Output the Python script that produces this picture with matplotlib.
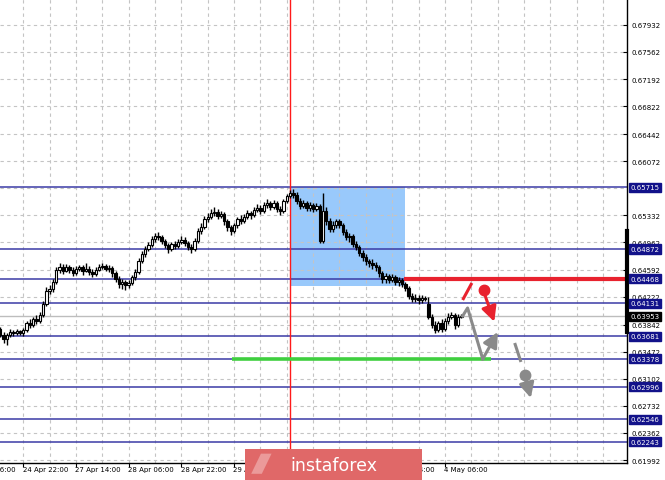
import matplotlib
matplotlib.use("Agg")
import matplotlib.pyplot as plt
from matplotlib.patches import Rectangle, Polygon
from matplotlib.transforms import blended_transform_factory

# ---------------- data (hourly candles) ----------------
opens = [.63781,.63699,.63644,.63699,.63740,.63726,.63754,.63726,.63767,.63863,
 .63835,.63917,.63890,.63972,.64122,.64300,.64327,.64422,.64586,.64627,
 .64573,.64627,.64586,.64545,.64600,.64627,.64573,.64600,.64559,.64532,
 .64586,.64627,.64641,.64600,.64614,.64545,.64463,.64395,.64422,.64381,
 .64409,.64491,.64559,.64709,.64805,.64873,.64927,.65009,.65050,.65037,
 .64982,.64927,.64873,.64941,.64914,.64968,.64996,.64955,.64900,.64873,
 .64982,.65119,.65173,.65282,.65310,.65364,.65378,.65323,.65351,.65255,
 .65173,.65119,.65200,.65282,.65255,.65310,.65364,.65337,.65405,.65433,
 .65392,.65473,.65501,.65446,.65501,.65419,.65392,.65528,.65596,.65637,
 .65610,.65528,.65460,.65501,.65433,.65473,.65419,.65460,.64982,.65392,
 .65255,.65146,.65200,.65255,.65200,.65105,.65037,.65050,.64941,.64900,
 .64818,.64764,.64709,.64682,.64654,.64627,.64545,.64463,.64504,.64450,
 .64491,.64422,.64450,.64395,.64341,.64231,.64190,.64204,.64177,.64204,
 .64122,.63945,.63835,.63767,.63863,.63781,.63890,.63945,.63972,.63835,
 .63945]
highs = [.63808,.63740,.63726,.63781,.63767,.63781,.63767,.63795,.63890,.63917,
 .63945,.63972,.64013,.64163,.64354,.64381,.64463,.64627,.64682,.64668,
 .64668,.64654,.64627,.64641,.64654,.64654,.64682,.64641,.64600,.64627,
 .64668,.64682,.64668,.64654,.64641,.64573,.64504,.64463,.64450,.64450,
 .64518,.64600,.64750,.64846,.64914,.64968,.65050,.65091,.65105,.65064,
 .65009,.64955,.64968,.64982,.65009,.65050,.65037,.64982,.64941,.65023,
 .65160,.65228,.65323,.65364,.65419,.65446,.65419,.65392,.65378,.65282,
 .65200,.65228,.65310,.65337,.65351,.65405,.65392,.65446,.65487,.65473,
 .65514,.65555,.65528,.65542,.65528,.65460,.65555,.65624,.65678,.65692,
 .65651,.65569,.65542,.65528,.65514,.65501,.65501,.65487,.65637,.65446,
 .65296,.65255,.65282,.65282,.65228,.65146,.65091,.65078,.64982,.64927,
 .64859,.64805,.64736,.64736,.64695,.64654,.64573,.64545,.64532,.64532,
 .64518,.64491,.64477,.64422,.64368,.64272,.64259,.64245,.64245,.64231,
 .64218,.63986,.63890,.63890,.63917,.63931,.63999,.64013,.63999,.63986,
 .63986]
lows = [.63672,.63590,.63562,.63672,.63685,.63699,.63699,.63685,.63740,.63795,
 .63808,.63849,.63863,.63945,.64095,.64259,.64286,.64395,.64545,.64532,
 .64559,.64545,.64504,.64518,.64573,.64518,.64559,.64518,.64491,.64504,
 .64573,.64600,.64573,.64559,.64491,.64422,.64341,.64327,.64313,.64341,
 .64381,.64450,.64532,.64682,.64764,.64846,.64900,.64968,.64996,.64941,
 .64887,.64818,.64846,.64873,.64887,.64941,.64914,.64859,.64818,.64846,
 .64955,.65078,.65146,.65241,.65282,.65323,.65282,.65296,.65200,.65119,
 .65064,.65091,.65160,.65214,.65228,.65282,.65282,.65310,.65378,.65351,
 .65364,.65433,.65405,.65419,.65378,.65337,.65364,.65501,.65569,.65569,
 .65487,.65419,.65433,.65392,.65392,.65378,.65392,.64955,.64955,.65200,
 .65105,.65105,.65160,.65160,.65064,.64996,.64968,.64900,.64859,.64777,
 .64709,.64654,.64627,.64600,.64573,.64491,.64409,.64409,.64409,.64422,
 .64381,.64368,.64354,.64300,.64190,.64149,.64149,.64122,.64136,.64163,
 .63917,.63795,.63726,.63740,.63740,.63754,.63849,.63917,.63781,.63808,
 .63931]
closes = [.63699,.63644,.63699,.63740,.63726,.63754,.63726,.63767,.63863,.63835,
 .63917,.63890,.63972,.64122,.64300,.64327,.64422,.64586,.64627,.64573,
 .64627,.64586,.64545,.64600,.64627,.64573,.64600,.64559,.64532,.64586,
 .64627,.64641,.64600,.64614,.64545,.64463,.64395,.64422,.64381,.64409,
 .64491,.64559,.64709,.64805,.64873,.64927,.65009,.65050,.65037,.64982,
 .64927,.64873,.64941,.64914,.64968,.64996,.64955,.64900,.64873,.64982,
 .65119,.65173,.65282,.65310,.65364,.65378,.65323,.65351,.65255,.65173,
 .65119,.65200,.65282,.65255,.65310,.65364,.65337,.65405,.65433,.65392,
 .65473,.65501,.65446,.65501,.65419,.65392,.65528,.65596,.65637,.65610,
 .65528,.65460,.65501,.65433,.65473,.65419,.65460,.64982,.65392,.65255,
 .65146,.65200,.65255,.65200,.65105,.65037,.65050,.64941,.64900,.64818,
 .64764,.64709,.64682,.64654,.64627,.64545,.64463,.64504,.64450,.64491,
 .64422,.64450,.64395,.64341,.64231,.64190,.64204,.64177,.64204,.64190,
 .63945,.63835,.63767,.63863,.63781,.63890,.63945,.63972,.63835,.63945,
 .63953]

current_price = 0.63953
level_prices = [0.65715, 0.64872, 0.64468, 0.64131, 0.63681, 0.63378, 0.62996, 0.62546, 0.62243]
price_ticks = [0.67932, 0.67562, 0.67192, 0.66822, 0.66442, 0.66072, 0.65332, 0.64962,
               0.64592, 0.64222, 0.63842, 0.63472, 0.63102, 0.62732, 0.62362, 0.61992]
grid_prices = price_ticks + [0.65702]
time_tick_bars = [-9, 7, 23, 39, 55, 71, 87, 103, 119, 135]
time_tick_labels = ["24 Apr 06:00", "24 Apr 22:00", "27 Apr 14:00", "28 Apr 06:00",
                    "28 Apr 22:00", "29 Apr 14:00", "30 Apr 06:00", "30 Apr 22:00",
                    "1 May 14:00", "4 May 06:00"]

# zones / forecast markup (bar index, price)
vline_bar = 88.1
zone_x = (88.1, 122.8)
zone_y = (0.64368, 0.65715)
resist_level = 0.64468
resist_start = 122.5
support_level = 0.63378
support_span = (70.5, 148.9)

# ---------------- figure ----------------
W, H = 665, 481
fig = plt.figure(figsize=(W / 100, H / 100), dpi=100)
fig.patch.set_facecolor("white")
ax = fig.add_axes([0, 17 / H, 627 / W, 464 / H])
ax.set_xlim(-0.07, 190.3)
ax.set_ylim(0.61952, 0.68285)
ax.set_facecolor("white")

for s in ["left", "top"]:
    ax.spines[s].set_visible(False)
for s in ["right", "bottom"]:
    ax.spines[s].set_color("black")
    ax.spines[s].set_linewidth(1.0)

# grid
for gp in grid_prices:
    ax.axhline(gp, color="#c4c4c4", lw=0.8, ls=(0, (3, 3)), zorder=1)
for gb in range(-1, 191, 8):
    ax.axvline(gb, color="#c4c4c4", lw=0.8, ls=(0, (3, 3)), zorder=1)

# blue zone
ax.add_patch(Rectangle((zone_x[0], zone_y[0]), zone_x[1] - zone_x[0], zone_y[1] - zone_y[0],
                       facecolor="#99c9fb", edgecolor="none", zorder=0.5))

# horizontal levels
for lp in level_prices:
    ax.axhline(lp, color="#3b3ba6", lw=1.1, zorder=2)
# bid line
ax.axhline(current_price, color="#bdbdbd", lw=1.0, zorder=1.5)

# red vertical line
ax.axvline(vline_bar, color="#ff1a1a", lw=1.0, zorder=2.5)

# resistance (red) and support (green)
ax.plot([resist_start, 190.3], [resist_level, resist_level], color="#e8222e", lw=3, zorder=2.6,
        solid_capstyle="butt")
ax.plot(list(support_span), [support_level, support_level], color="#3fcf3f", lw=2.6, zorder=2.6,
        solid_capstyle="butt")

# candles
for i, (o, h, l, c) in enumerate(zip(opens, highs, lows, closes)):
    ax.plot([i, i], [l, h], color="black", lw=1.0, zorder=3, solid_capstyle="butt")
    bottom = min(o, c)
    height = max(abs(c - o), 0.00005)
    bull = c >= o
    ax.add_patch(Rectangle((i - 0.36, bottom), 0.72, height,
                           facecolor="white" if bull else "black",
                           edgecolor="black", lw=0.8, zorder=3.2))

# forecast markup
ax.plot([140.4, 143.2], [0.64177, 0.64409], color="#e8222e", lw=2.2, zorder=4, solid_capstyle="butt")
ax.plot([146.8], [0.64313], marker="o", ms=7.5, color="#e8222e", zorder=4)
ax.annotate("", xy=(150.0, 0.63880), xytext=(146.8, 0.64290),
            arrowprops=dict(arrowstyle="-|>,head_length=0.9,head_width=0.45", color="#e8222e", lw=2.2,
                            shrinkA=0, shrinkB=0), zorder=4)
ax.plot([140.4, 141.9, 146.5], [0.63958, 0.64068, 0.63372], color="#8a8a8a", lw=2.2, zorder=4)
ax.annotate("", xy=(151.1, 0.63740), xytext=(146.5, 0.63372),
            arrowprops=dict(arrowstyle="-|>,head_length=0.9,head_width=0.45", color="#8a8a8a", lw=2.2,
                            shrinkA=0, shrinkB=0), zorder=4)
ax.plot([156.2, 158.1], [0.63590, 0.63331], color="#8a8a8a", lw=2.2, zorder=4, solid_capstyle="butt")
ax.plot([159.3], [0.63153], marker="o", ms=7.5, color="#8a8a8a", zorder=4)
ax.annotate("", xy=(161.1, 0.62839), xytext=(159.4, 0.63120),
            arrowprops=dict(arrowstyle="-|>,head_length=0.9,head_width=0.45", color="#8a8a8a", lw=2.2,
                            shrinkA=0, shrinkB=0), zorder=4)

# right price axis
FS = 5.0
ax.yaxis.tick_right()
ax.set_yticks(price_ticks)
ax.set_yticklabels([f"{p:.5f}" for p in price_ticks])
ax.tick_params(axis="y", direction="in", length=3, width=0.8, pad=3, labelsize=FS, colors="black")
ytrans = blended_transform_factory(ax.transAxes, ax.transData)
for lp in level_prices:
    ax.annotate(f"{lp:.5f}", xy=(1, lp), xycoords=ytrans, xytext=(2.5, 0), textcoords="offset points",
                ha="left", va="center", fontsize=FS, color="white", annotation_clip=False,
                bbox=dict(boxstyle="square,pad=0.25", fc="#12128a", ec="#12128a"), zorder=10)
ax.annotate(f"{current_price:.5f}", xy=(1, current_price), xycoords=ytrans, xytext=(2.5, 0),
            textcoords="offset points", ha="left", va="center", fontsize=FS, color="white",
            annotation_clip=False, bbox=dict(boxstyle="square,pad=0.25", fc="black", ec="black"), zorder=11)
# thick black marker on axis
ax.plot([1, 1], [0.63740, 0.65119], transform=ytrans, color="black", lw=3, clip_on=False, zorder=9)

# bottom time axis
ax.set_xticks([b for b in time_tick_bars if b >= 0])
ax.set_xticklabels([])
ax.tick_params(axis="x", direction="out", length=3, width=0.8, colors="black")
xtrans = blended_transform_factory(ax.transData, ax.transAxes)
for b, lab in zip(time_tick_bars, time_tick_labels):
    ax.annotate(lab, xy=(b, 0), xycoords=xtrans, xytext=(-0.5, -2.5), textcoords="offset points",
                ha="left", va="top", fontsize=FS, color="black", annotation_clip=False)

# instaforex logo overlay
lax = fig.add_axes([245 / W, 0, 177 / W, 31 / H], zorder=20)
lax.set_xlim(0, 1)
lax.set_ylim(0, 1)
lax.axis("off")
lax.add_patch(Rectangle((0, 0), 1, 1, facecolor="#e06868", edgecolor="none"))
lax.add_patch(Polygon([(0.035, 0.2), (0.09, 0.85), (0.15, 0.85), (0.095, 0.2)],
                      closed=True, facecolor="#eb9a9a", edgecolor="none"))
lax.text(0.5, 0.48, "instaforex", ha="center", va="center", fontsize=12.5, color="white")

fig.savefig("out.png", dpi=100, facecolor="white")
